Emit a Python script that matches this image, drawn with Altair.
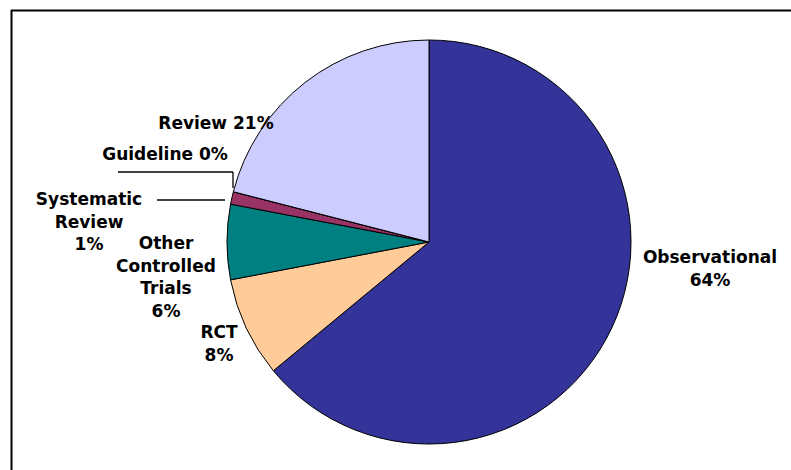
import altair as alt
import pandas as pd

# data
categories = ["Observational", "RCT", "Other Controlled Trials", "Systematic Review", "Guideline", "Review"]
percents = [64, 8, 6, 1, 0, 21]
colors = ["#333399", "#FFCC99", "#008080", "#993366", "#FFFFCC", "#CCCCFF"]
label_texts = ["Observational\n64%", "RCT\n8%", "Other\nControlled\nTrials\n6%",
               "Systematic\nReview\n1%", "Guideline 0%", "Review 21%"]

# layout (pixel positions of the first line of each annotation label)
label_x = [710, 219, 166, 89, 165, 216]
label_y = [258, 333, 244, 200, 155, 124]

W, H = 791, 470
CX, CY, R = 429, 242, 202

pie_df = pd.DataFrame({"category": categories, "value": percents, "idx": list(range(len(categories)))})
lab_df = pd.DataFrame({"text": label_texts, "x": label_x, "y": label_y})

pie = alt.Chart(pie_df).mark_arc(radius=R, stroke="black", strokeWidth=1).encode(
    theta=alt.Theta("value:Q", stack=True),
    order=alt.Order("idx:Q"),
    color=alt.Color("category:N", scale=alt.Scale(domain=categories, range=colors), legend=None),
    x=alt.value(CX),
    y=alt.value(CY),
)

labels = alt.Chart(lab_df).mark_text(
    font="DejaVu Sans", fontSize=17, fontWeight="bold", color="black", lineBreak="\n", lineHeight=22.5,
    align="center", baseline="middle"
).encode(
    x=alt.X("x:Q", scale=None),
    y=alt.Y("y:Q", scale=None),
    text="text:N",
)

lead_df = pd.DataFrame({
    "x": [118, 233, 157], "y": [172, 172, 200],
    "x2": [233, 233, 225], "y2": [172, 188, 200],
})
leaders = alt.Chart(lead_df).mark_rule(color="black", strokeWidth=1.3).encode(
    x=alt.X("x:Q", scale=None), y=alt.Y("y:Q", scale=None),
    x2="x2:Q", y2="y2:Q",
)

frame_df = pd.DataFrame({"x": [11, 11.5], "y": [10.5, 10], "x2": [W + 5, 11.5], "y2": [10.5, H + 5]})
frame = alt.Chart(frame_df).mark_rule(color="black", strokeWidth=2).encode(
    x=alt.X("x:Q", scale=None), y=alt.Y("y:Q", scale=None),
    x2="x2:Q", y2="y2:Q",
)

chart = alt.layer(frame, pie, leaders, labels).properties(
    width=W, height=H, autosize=alt.AutoSizeParams(type="none"), padding=0,
    background="white",
).configure_view(stroke=None)

chart.save("out.html", embed_options={"renderer": "svg", "actions": False})
